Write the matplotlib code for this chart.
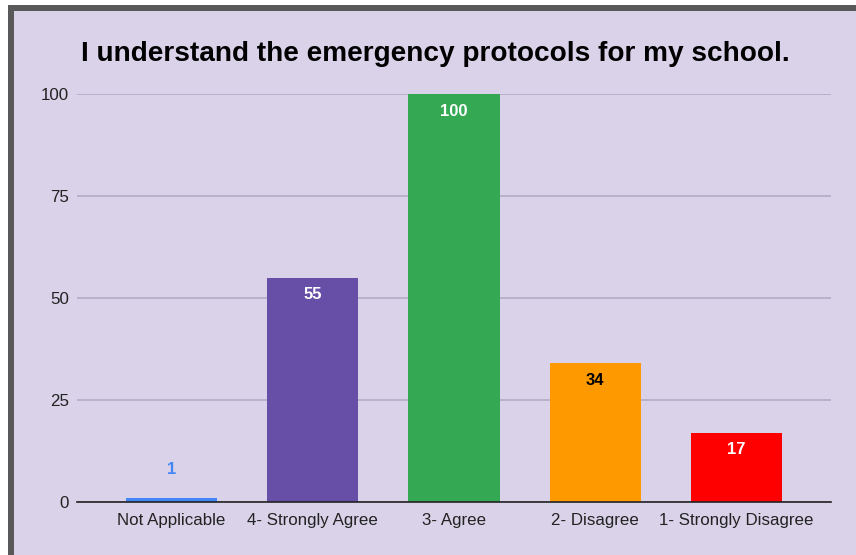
import matplotlib
matplotlib.use('Agg')
import matplotlib.pyplot as plt
from matplotlib.patches import Rectangle

plt.rcParams['font.family'] = ['Liberation Sans', 'DejaVu Sans']

categories = ['Not Applicable', '4- Strongly Agree', '3- Agree', '2- Disagree', '1- Strongly Disagree']
counts = [1, 55, 100, 34, 17]
bar_colors = ['#4285f4', '#674ea7', '#34a853', '#ff9900', '#ff0000']
label_colors = ['#4285f4', 'white', 'white', 'black', 'white']
yticks = [0, 25, 50, 75, 100]

BG = '#d9d2e9'
W, H = 856, 555

fig = plt.figure(figsize=(W / 100, H / 100), dpi=100)
fig.patch.set_facecolor('white')

# chart card with dark frame on top and left
fig.patches.append(Rectangle((8 / W, 0), 1, 1 - 5 / H, transform=fig.transFigure,
                             facecolor='#595959', edgecolor='none', zorder=-2))
fig.patches.append(Rectangle((14 / W, 0), 1, 1 - 11 / H, transform=fig.transFigure,
                             facecolor=BG, edgecolor='none', zorder=-1))

ax = fig.add_axes([77 / W, 1 - 502 / H, (831 - 77) / W, (502 - 94) / H])
ax.set_facecolor('none')
ax.set_zorder(1)

x = range(len(categories))
bars = ax.bar(x, counts, width=0.645, color=bar_colors, zorder=3)

for xi, v, c in zip(x, counts, label_colors):
    if v < 10:
        ax.annotate(str(v), (xi, v), xytext=(0, 15), textcoords='offset points',
                    ha='center', va='bottom', color=c, fontsize=12, fontweight='bold')
    else:
        ax.annotate(str(v), (xi, v), xytext=(0, -7), textcoords='offset points',
                    ha='center', va='top', color=c, fontsize=12, fontweight='bold', zorder=4)

ax.set_xlim(-0.67, len(categories) - 1 + 0.67)
ax.set_ylim(0, 100)
ax.set_yticks(yticks)
ax.set_xticks(list(x))
ax.set_xticklabels(categories, fontsize=12.2)
ax.tick_params(axis='y', labelsize=12.2, length=0, pad=6, colors='#222222')
ax.tick_params(axis='x', length=0, pad=8, colors='#222222')
ax.grid(axis='y', color='#b3abc6', linewidth=1.2, zorder=1)
for side in ['top', 'right', 'left']:
    ax.spines[side].set_visible(False)
ax.spines['bottom'].set_color('#222222')
ax.spines['bottom'].set_linewidth(1.2)
ax.spines['bottom'].set_zorder(4)

fig.text(435 / W, 1 - 54 / H, 'I understand the emergency protocols for my school.',
         ha='center', va='center', fontsize=20.2, fontweight='bold', color='black')

fig.savefig('out.png', dpi=100, facecolor=fig.get_facecolor())
